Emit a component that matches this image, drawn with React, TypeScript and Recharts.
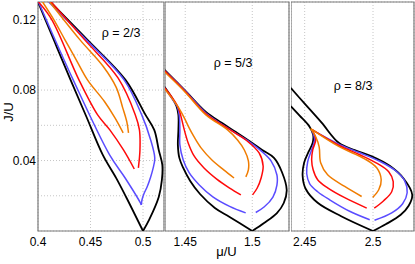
import React from 'react';
import { LineChart, Line, XAxis, YAxis, CartesianGrid, ReferenceArea } from 'recharts';

type Pt = [number, number];

// ---------- Panel 1 : rho = 2/3 ----------
const p1BlackLeft: Pt[] = [[0.4, 0.13], [0.407, 0.12], [0.4182, 0.104], [0.431, 0.0858], [0.446, 0.065], [0.4617, 0.0432], [0.4745, 0.03], [0.4839, 0.0193], [0.5, 0]];
const p1BlackRight: Pt[] = [[0.4118, 0.13], [0.4471, 0.1085], [0.4833, 0.0858], [0.5024, 0.0659], [0.5107, 0.0574], [0.515, 0.046], [0.5184, 0.0375], [0.518, 0.029], [0.515, 0.0193], [0.5058, 0.0063], [0.5, 0]];
const p1BlueLeft: Pt[] = [[0.4005, 0.13], [0.4078, 0.12], [0.4335, 0.0858], [0.4682, 0.0432], [0.483, 0.0301], [0.4976, 0.0159], [0.4984, 0.0148]];
const p1BlueRight: Pt[] = [[0.4102, 0.13], [0.446, 0.1085], [0.482, 0.0858], [0.4988, 0.0659], [0.5073, 0.0517], [0.5112, 0.0415], [0.5097, 0.0358], [0.5073, 0.0307], [0.5039, 0.025], [0.5008, 0.021], [0.499, 0.0176], [0.4984, 0.0148]];
const p1RedLeft: Pt[] = [[0.4005, 0.13], [0.4131, 0.12], [0.439, 0.0858], [0.4568, 0.0659], [0.4684, 0.0574], [0.4814, 0.046], [0.4917, 0.0352]];
const p1RedRight: Pt[] = [[0.4126, 0.13], [0.4445, 0.1085], [0.4762, 0.0869], [0.4927, 0.0659], [0.4966, 0.0574], [0.4971, 0.046], [0.4956, 0.0358]];
const p1OrangeLeft: Pt[] = [[0.4044, 0.13], [0.415, 0.12], [0.4257, 0.1085], [0.4364, 0.0972], [0.4471, 0.0858], [0.4633, 0.0735], [0.4733, 0.0642], [0.4811, 0.0557]];
const p1OrangeRight: Pt[] = [[0.4112, 0.13], [0.44, 0.1085], [0.462, 0.0935], [0.4745, 0.0815], [0.4807, 0.0699], [0.4846, 0.0619], [0.4862, 0.0557]];

// ---------- Panel 2 : rho = 5/3 ----------
const p2BlackLeft: Pt[] = [[1.4346, 0.0818], [1.4397, 0.0761], [1.4434, 0.071], [1.4449, 0.0659], [1.4449, 0.0574], [1.4445, 0.0489], [1.4456, 0.0415], [1.4485, 0.0358], [1.4537, 0.0284], [1.461, 0.021], [1.4721, 0.0131], [1.4831, 0.008], [1.5, 0]];
const p2BlackRight: Pt[] = [[1.4346, 0.0915], [1.45, 0.0797], [1.4654, 0.0676], [1.4772, 0.0614], [1.4875, 0.0563], [1.4978, 0.0511], [1.5074, 0.046], [1.5162, 0.0415], [1.5221, 0.0335], [1.5257, 0.0233], [1.5235, 0.0159], [1.5184, 0.0102], [1.5088, 0.0045], [1.5, 0]];
const p2BlueLeft: Pt[] = [[1.4346, 0.0813], [1.4397, 0.0756], [1.4441, 0.0705], [1.4456, 0.0653], [1.446, 0.0574], [1.446, 0.0489], [1.4485, 0.0403], [1.4529, 0.0331], [1.4603, 0.0263], [1.4706, 0.0194], [1.4831, 0.014], [1.4951, 0.0103]];
const p2BlueRight: Pt[] = [[1.4346, 0.0909], [1.45, 0.0795], [1.4654, 0.067], [1.4855, 0.0566], [1.4978, 0.0506], [1.5066, 0.0455], [1.514, 0.0398], [1.5184, 0.0318], [1.5184, 0.0261], [1.5154, 0.0193], [1.5088, 0.0136], [1.5026, 0.0105]];
const p2RedLeft: Pt[] = [[1.4346, 0.0813], [1.4404, 0.0756], [1.4449, 0.0699], [1.4471, 0.0642], [1.4493, 0.0574], [1.4522, 0.05], [1.4566, 0.0426], [1.464, 0.0358], [1.4735, 0.0295], [1.4831, 0.0244], [1.4915, 0.0205]];
const p2RedRight: Pt[] = [[1.4346, 0.0909], [1.45, 0.0792], [1.4654, 0.0665], [1.4848, 0.0568], [1.4955, 0.0515], [1.5051, 0.0443], [1.5081, 0.0369], [1.5066, 0.0301], [1.5037, 0.0244], [1.5002, 0.0205]];
const p2OrangeLeft: Pt[] = [[1.4346, 0.0807], [1.4404, 0.075], [1.4456, 0.0693], [1.4493, 0.0642], [1.4529, 0.0585], [1.4566, 0.0534], [1.4618, 0.0472], [1.4699, 0.0403], [1.4787, 0.0347], [1.4864, 0.0301]];
const p2OrangeRight: Pt[] = [[1.4346, 0.0903], [1.45, 0.0788], [1.4654, 0.0659], [1.4816, 0.0574], [1.489, 0.0517], [1.4941, 0.046], [1.4971, 0.0398], [1.4971, 0.0347], [1.4952, 0.0307]];

// ---------- Panel 3 : rho = 8/3 ----------
const p3BlackLeft: Pt[] = [[2.4398, 0.0709], [2.4463, 0.0655], [2.4537, 0.0591], [2.4562, 0.0547], [2.4559, 0.0501], [2.4529, 0.045], [2.4496, 0.0388], [2.4485, 0.0314], [2.4507, 0.024], [2.4595, 0.016], [2.4767, 0.0084], [2.5, 0]];
const p3BlackRight: Pt[] = [[2.4398, 0.0812], [2.45, 0.0723], [2.4624, 0.0615], [2.4749, 0.0501], [2.4866, 0.0459], [2.4991, 0.0424], [2.5122, 0.037], [2.5225, 0.0297], [2.5287, 0.0206], [2.5261, 0.0143], [2.5203, 0.0092], [2.5093, 0.0038], [2.5, 0]];
const p3BlueLeft: Pt[] = [[2.4551, 0.0575], [2.4573, 0.0518], [2.4551, 0.0461], [2.4522, 0.0393], [2.4515, 0.0325], [2.4537, 0.0268], [2.4595, 0.0223], [2.4683, 0.0177], [2.4829, 0.0112], [2.4976, 0.0064]];
const p3BlueRight: Pt[] = [[2.4551, 0.0575], [2.4756, 0.049], [2.4903, 0.0444], [2.5049, 0.0396], [2.5166, 0.0342], [2.5232, 0.0285], [2.525, 0.0217], [2.5217, 0.0155], [2.5137, 0.0103], [2.5011, 0.0061]];
const p3RedLeft: Pt[] = [[2.4555, 0.0575], [2.4581, 0.0518], [2.4559, 0.0461], [2.4551, 0.0405], [2.4562, 0.0348], [2.4595, 0.0291], [2.4668, 0.0245], [2.4793, 0.0189], [2.4954, 0.013]];
const p3RedRight: Pt[] = [[2.4555, 0.0575], [2.4756, 0.0484], [2.4903, 0.0433], [2.5034, 0.0382], [2.5115, 0.0336], [2.5148, 0.028], [2.5137, 0.0223], [2.5078, 0.0172], [2.5009, 0.013]];
const p3OrangeLeft: Pt[] = [[2.4544, 0.0581], [2.4581, 0.0535], [2.4606, 0.0478], [2.4617, 0.0387], [2.4668, 0.0319], [2.4793, 0.0253], [2.4917, 0.0196]];
const p3OrangeRight: Pt[] = [[2.4544, 0.0581], [2.4749, 0.048], [2.4939, 0.041], [2.5027, 0.0359], [2.506, 0.0291], [2.5042, 0.0234], [2.4998, 0.0191]];

// ---------- Axes ----------
const yDomain: [number, number] = [0, 0.13];
const yTicks = [0.02, 0.04, 0.06, 0.08, 0.1, 0.12];
const yTickLabels = ['0.04', '0.08', '0.12'];
const p1Domain: [number, number] = [0.4, 0.52];
const p2Domain: [number, number] = [1.4349, 1.5274];
const p3Domain: [number, number] = [2.44, 2.53];
const p1Ticks = [0.4, 0.45, 0.5];
const p2Ticks = [1.45, 1.5];
const p3Ticks = [2.45, 2.5];
const rhoLabels = ['ρ = 2/3', 'ρ = 5/3', 'ρ = 8/3'];
const xLabel = 'μ/U';
const yLabel = 'J/U';

const BLACK = '#000000';
const BLUE = '#5a4cff';
const RED = '#ff0a0a';
const ORANGE = '#f07c00';
const FRAME = '#7a7a7a';
const FONT = '"Liberation Sans", Arial, Helvetica, sans-serif';

// centripetal Catmull-Rom curve factory (d3-style)
const catmullRom = (context: any) => {
  let pts: number[][] = [];
  return {
    areaStart() {},
    areaEnd() {},
    lineStart() {
      pts = [];
    },
    point(x: number, y: number) {
      pts.push([+x, +y]);
    },
    lineEnd() {
      const n = pts.length;
      if (!n) return;
      context.moveTo(pts[0][0], pts[0][1]);
      const dist = (a: number[], b: number[]) => Math.hypot(b[0] - a[0], b[1] - a[1]);
      for (let i = 0; i < n - 1; i++) {
        const p0 = pts[i === 0 ? 0 : i - 1];
        const p1 = pts[i];
        const p2 = pts[i + 1];
        const p3 = pts[i + 2 < n ? i + 2 : n - 1];
        const l01 = dist(p0, p1), l12 = dist(p1, p2), l23 = dist(p2, p3);
        const l01a = Math.sqrt(l01), l12a = Math.sqrt(l12), l23a = Math.sqrt(l23);
        let c1x = p1[0], c1y = p1[1], c2x = p2[0], c2y = p2[1];
        if (l01a > 1e-6) {
          const a = 2 * l01 + 3 * l01a * l12a + l12;
          const nn = 3 * l01a * (l01a + l12a);
          c1x = (p1[0] * a - p0[0] * l12 + p2[0] * l01) / nn;
          c1y = (p1[1] * a - p0[1] * l12 + p2[1] * l01) / nn;
        }
        if (l23a > 1e-6) {
          const b = 2 * l23 + 3 * l23a * l12a + l12;
          const m = 3 * l23a * (l23a + l12a);
          c2x = (p2[0] * b + p1[0] * l23 - p3[0] * l12) / m;
          c2y = (p2[1] * b + p1[1] * l23 - p3[1] * l12) / m;
        }
        context.bezierCurveTo(c1x, c1y, c2x, c2y, p2[0], p2[1]);
      }
    },
  };
};

const toData = (pts: Pt[]) => pts.map(([mu, J]) => ({ mu, J }));

type Curve = { pts: Pt[]; color: string; w: number };

const p1Curves: Curve[] = [
  { pts: p1BlackLeft, color: BLACK, w: 1.8 }, { pts: p1BlackRight, color: BLACK, w: 1.8 },
  { pts: p1BlueLeft, color: BLUE, w: 1.5 }, { pts: p1BlueRight, color: BLUE, w: 1.5 },
  { pts: p1RedLeft, color: RED, w: 1.5 }, { pts: p1RedRight, color: RED, w: 1.5 },
  { pts: p1OrangeLeft, color: ORANGE, w: 1.5 }, { pts: p1OrangeRight, color: ORANGE, w: 1.5 },
];
const p2Curves: Curve[] = [
  { pts: p2BlackLeft, color: BLACK, w: 1.8 }, { pts: p2BlackRight, color: BLACK, w: 1.8 },
  { pts: p2BlueLeft, color: BLUE, w: 1.5 }, { pts: p2BlueRight, color: BLUE, w: 1.5 },
  { pts: p2RedLeft, color: RED, w: 1.5 }, { pts: p2RedRight, color: RED, w: 1.5 },
  { pts: p2OrangeLeft, color: ORANGE, w: 1.5 }, { pts: p2OrangeRight, color: ORANGE, w: 1.5 },
];
const p3Curves: Curve[] = [
  { pts: p3BlackLeft, color: BLACK, w: 1.8 }, { pts: p3BlackRight, color: BLACK, w: 1.8 },
  { pts: p3BlueLeft, color: BLUE, w: 1.5 }, { pts: p3BlueRight, color: BLUE, w: 1.5 },
  { pts: p3RedLeft, color: RED, w: 1.5 }, { pts: p3RedRight, color: RED, w: 1.5 },
  { pts: p3OrangeLeft, color: ORANGE, w: 1.5 }, { pts: p3OrangeRight, color: ORANGE, w: 1.5 },
];

type PanelProps = {
  left: number;
  width: number;
  domain: [number, number];
  ticks: number[];
  curves: Curve[];
  showY: boolean;
};

function Panel({ left, width, domain, ticks, curves, showY }: PanelProps) {
  return (
    <div style={{ position: 'absolute', left, top: 0 }}>
      <LineChart width={width} height={264} margin={{ top: 2, right: 1, bottom: 0, left: 0 }}>
        <CartesianGrid stroke="#c6c6c6" strokeDasharray="1 2" />
        <XAxis
          type="number"
          dataKey="mu"
          domain={domain}
          ticks={ticks}
          interval={0}
          allowDataOverflow
          height={33}
          tickSize={0}
          tickMargin={6}
          tickLine={false}
          axisLine={false}
          tick={{ fill: '#000', fontSize: 12, fontFamily: FONT }}
          tickFormatter={(v: number) => String(v)}
        />
        <YAxis
          type="number"
          dataKey="J"
          domain={yDomain}
          ticks={yTicks}
          interval={0}
          allowDataOverflow
          width={showY ? 38 : 0}
          tickSize={0}
          tickMargin={2}
          tickLine={false}
          axisLine={false}
          tick={showY ? { fill: '#000', fontSize: 12, fontFamily: FONT } : false}
          tickFormatter={(v: number) => (yTickLabels.includes(v.toFixed(2)) ? v.toFixed(2) : '')}
        />
        {curves.map((c, i) => (
          <Line
            key={i}
            data={toData(c.pts)}
            dataKey="J"
            type={catmullRom as any}
            stroke={c.color}
            strokeWidth={c.w}
            dot={false}
            activeDot={false}
            isAnimationActive={false}
          />
        ))}
        <ReferenceArea
          x1={domain[0]}
          x2={domain[1]}
          y1={yDomain[0]}
          y2={yDomain[1]}
          fill="none"
          fillOpacity={0}
          stroke={FRAME}
          strokeWidth={1.2}
          ifOverflow="visible"
        />
      </LineChart>
    </div>
  );
}

export default function App() {
  return (
    <div style={{ position: 'absolute', left: 0, top: 0, width: 415, height: 264, background: '#fff', fontFamily: FONT }}>
      <Panel left={0} width={165} domain={p1Domain} ticks={p1Ticks} curves={p1Curves} showY />
      <Panel left={165} width={125} domain={p2Domain} ticks={p2Ticks} curves={p2Curves} showY={false} />
      <Panel left={291} width={124} domain={p3Domain} ticks={p3Ticks} curves={p3Curves} showY={false} />
      <svg width={415} height={264} style={{ position: 'absolute', left: 0, top: 0, pointerEvents: 'none' }}>
        <text x={121} y={33} textAnchor="middle" dominantBaseline="central" fontSize={12.5} fontFamily={FONT} fill="#000">{rhoLabels[0]}</text>
        <text x={233} y={62.5} textAnchor="middle" dominantBaseline="central" fontSize={12.5} fontFamily={FONT} fill="#000">{rhoLabels[1]}</text>
        <text x={353} y={86} textAnchor="middle" dominantBaseline="central" fontSize={12.5} fontFamily={FONT} fill="#000">{rhoLabels[2]}</text>
        <text x={226.5} y={251} textAnchor="middle" dominantBaseline="central" fontSize={13} fontFamily={FONT} fill="#000">{xLabel}</text>
        <text transform="translate(8,112) rotate(-90)" textAnchor="middle" dominantBaseline="central" fontSize={13} fontFamily={FONT} fill="#000">{yLabel}</text>
      </svg>
    </div>
  );
}
